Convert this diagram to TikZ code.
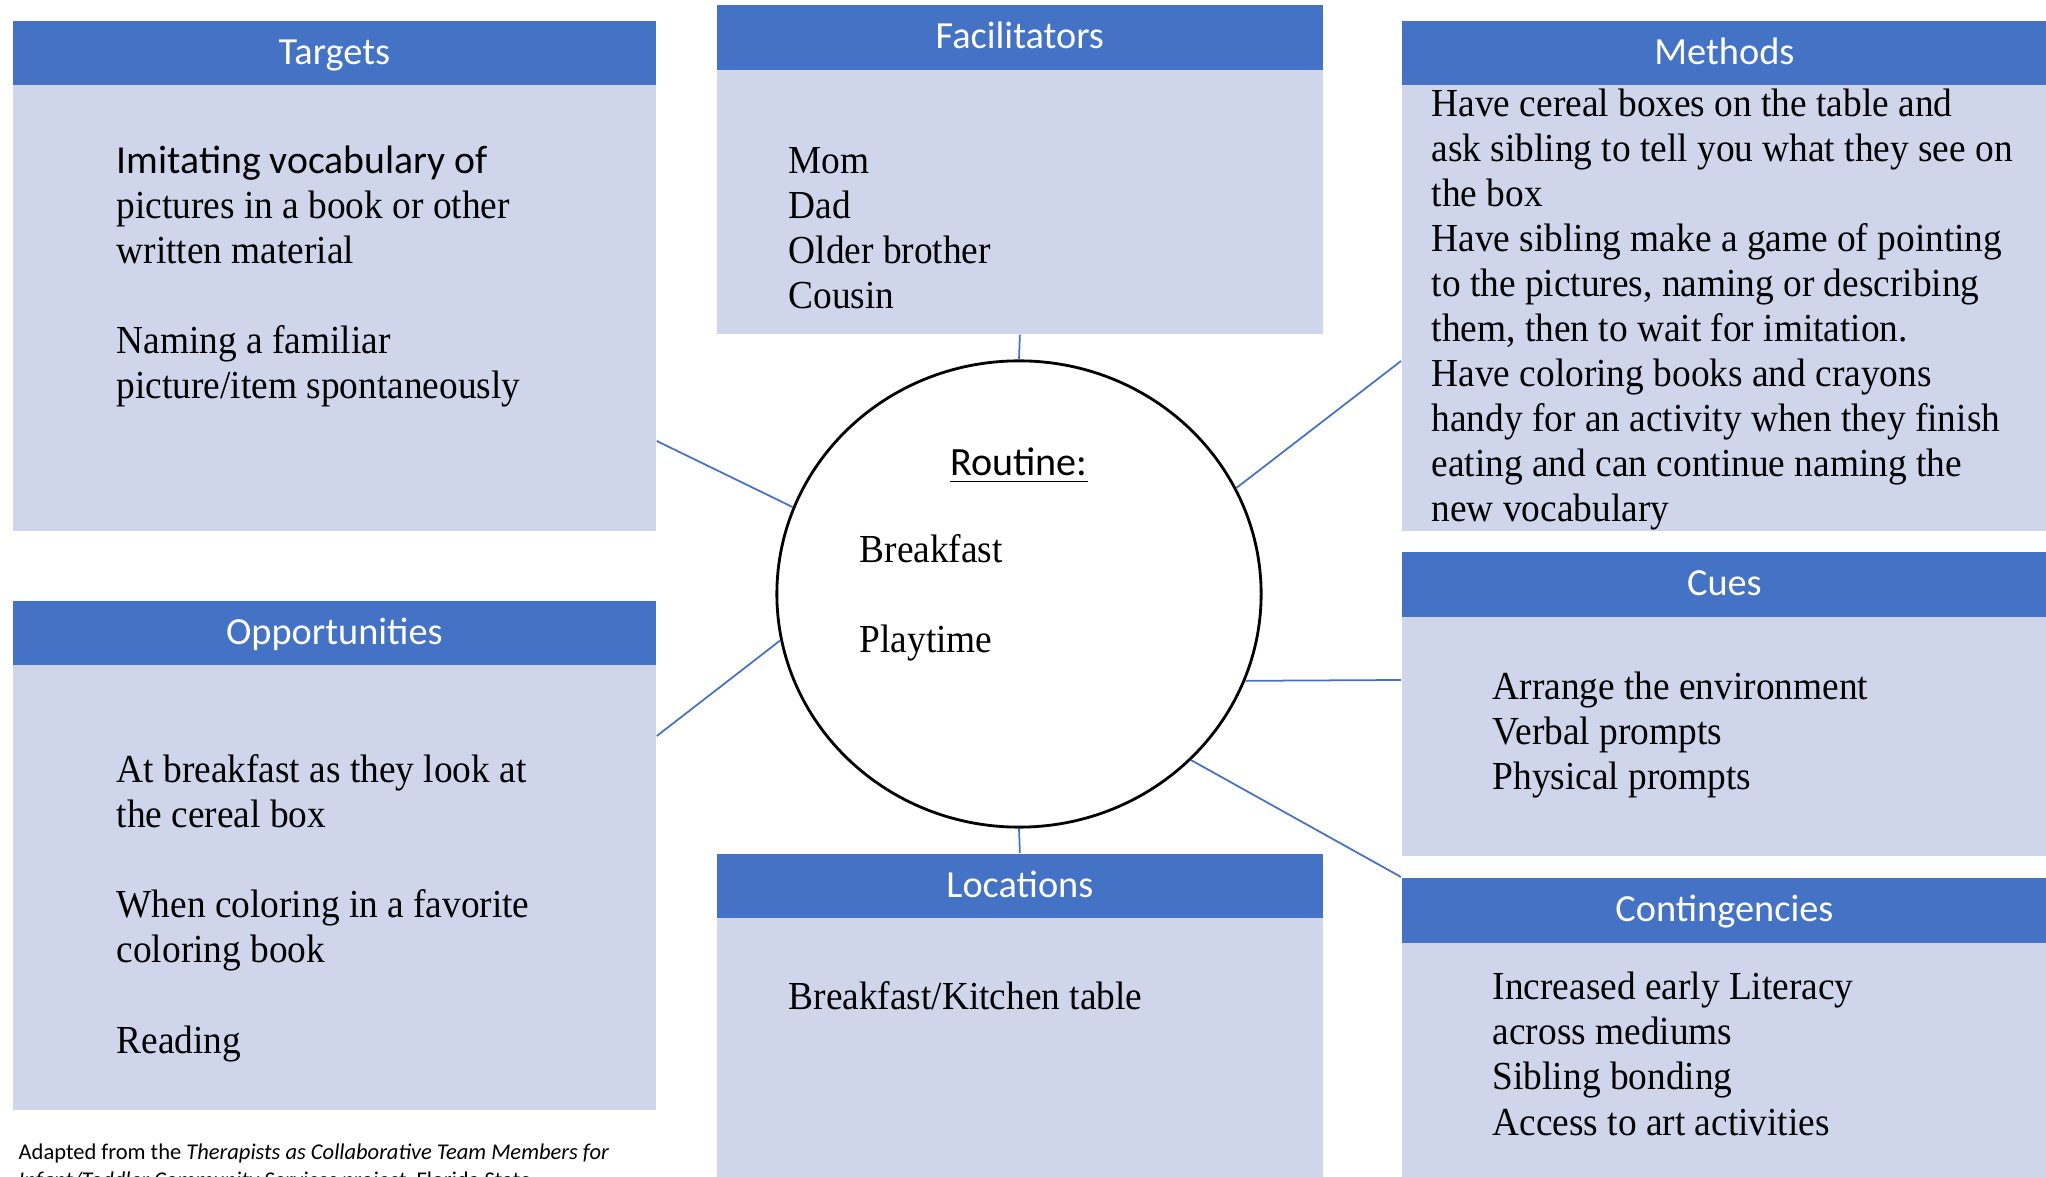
\documentclass[tikz,border=0pt]{standalone}
\usepackage{fontspec}
\setmainfont[FakeStretch=0.94]{Liberation Serif}
\setsansfont{Carlito}
\usepackage{xcolor}
\usetikzlibrary{shapes.geometric,positioning,calc}
\definecolor{hdrblue}{HTML}{4472C4}
\definecolor{panelblue}{HTML}{CFD5EA}

\begin{document}
\begin{tikzpicture}[x=0.01cm, y=-0.01cm,
    hdr/.style={anchor=north west, fill=hdrblue, text=white, inner sep=0pt,
        text height=0.75em, text depth=0.1em,
        font=\sffamily\fontsize{10.9}{12}\selectfont},
    panel/.style={anchor=north west, fill=panelblue, inner sep=0pt},
    txt/.style={anchor=base west, inner sep=0pt, align=left,
        font=\fontsize{11.3}{12.8}\selectfont},
    link/.style={draw=hdrblue, line width=0.5pt}]
    \useasboundingbox (0,0) rectangle (2046,1177);

    % Targets
    \node[panel, minimum width=6.43cm, minimum height=4.46cm] (tgtbody) at (12,84) {};
    \node[hdr, minimum width=6.43cm, minimum height=0.64cm] (tgt) at (12,20) {Targets};
    % text nodes sit on the baseline of their last line
    \node[txt] (tgttxt) at (116,399) {{\sffamily Imitating vocabulary of}\\pictures in a book or other\\written material\\[12.8pt]Naming a familiar\\picture/item spontaneously};

    % Facilitators
    \node[panel, minimum width=6.06cm, minimum height=2.64cm] (facbody) at (716,69) {};
    \node[hdr, minimum width=6.06cm, minimum height=0.65cm] (fac) at (716,4) {Facilitators};
    \node[txt] (factxt) at (788,309) {Mom\\Dad\\Older brother\\Cousin};

    % Methods
    \node[panel, minimum width=6.45cm, minimum height=4.46cm] (methbody) at (1401,84) {};
    \node[hdr, minimum width=6.45cm, minimum height=0.64cm] (meth) at (1401,20) {Methods};
    \node[txt] (methtxt) at (1431,522) {Have cereal boxes on the table and\\ask sibling to tell you what they see on\\the box\\Have sibling make a game of pointing\\to the pictures, naming or describing\\them, then to wait for imitation.\\Have coloring books and crayons\\handy for an activity when they finish\\eating and can continue naming the\\new vocabulary};

    % Opportunities
    \node[panel, minimum width=6.43cm, minimum height=4.45cm] (oppbody) at (12,664) {};
    \node[hdr, minimum width=6.43cm, minimum height=0.64cm] (opp) at (12,600) {Opportunities};
    \node[txt] (opptxt) at (116,1053) {At breakfast as they look at\\the cereal box\\[12.8pt]When coloring in a favorite\\coloring book\\[12.8pt]Reading};

    % Cues
    \node[panel, minimum width=6.45cm, minimum height=2.39cm] (cuesbody) at (1401,616) {};
    \node[hdr, minimum width=6.45cm, minimum height=0.65cm] (cues) at (1401,551) {Cues};
    \node[txt] (cuestxt) at (1492,790) {Arrange the environment\\Verbal prompts\\Physical prompts};

    % Contingencies
    \node[panel, minimum width=6.45cm, minimum height=2.35cm] (contbody) at (1401,942) {};
    \node[hdr, minimum width=6.45cm, minimum height=0.65cm] (cont) at (1401,877) {Contingencies};
    \node[txt] (conttxt) at (1492,1135) {Increased early Literacy\\across mediums\\Sibling bonding\\Access to art activities};

    % Locations
    \node[panel, minimum width=6.06cm, minimum height=2.60cm] (locbody) at (716,917) {};
    \node[hdr, minimum width=6.06cm, minimum height=0.64cm] (loc) at (716,853) {Locations};
    \node[txt] (loctxt) at (788,1009) {Breakfast/Kitchen table};

    % Routine circle
    \node[draw, ellipse, line width=0.8pt, inner sep=0pt, minimum width=4.84cm, minimum height=4.66cm] (routine) at (1019,594) {};
    \node[anchor=base, inner sep=0pt, font=\sffamily\fontsize{11.4}{13}\selectfont] (rtitle) at (1019,476) {\underline{Routine:}};
    \node[txt] (rbreak) at (859,563) {Breakfast};
    \node[txt] (rplay) at (859,653) {Playtime};

    % Links to the circle
    \draw[link] (tgtbody.east |- 0,441) -- (routine.159);
    \draw[link] (facbody.south) -- (routine.north);
    \draw[link] (methbody.west |- 0,361) -- (routine.26);
    \draw[link] (oppbody.east |- 0,736) -- (routine.191);
    \draw[link] (cuesbody.west |- 0,680) -- (routine.339);
    \draw[link] (cont.north west) -- (routine.316);
    \draw[link] (routine.south) -- (loc.north);

    % Source note
    \node[anchor=base west, inner sep=0pt, align=left, font=\sffamily\fontsize{6.4}{7.8}\selectfont] (note) at (18,1187) {Adapted from the \textit{Therapists as Collaborative Team Members for}\\\textit{Infant/Toddler Community Services project}, Florida State};
\end{tikzpicture}
\end{document}
